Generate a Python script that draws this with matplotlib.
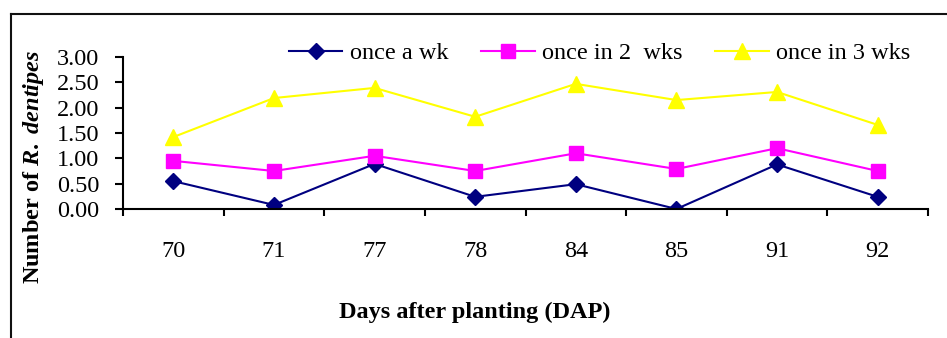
import numpy as np
import matplotlib.pyplot as plt
from matplotlib.lines import Line2D

plt.rcParams['font.family'] = ['Liberation Serif', 'DejaVu Serif']
plt.rcParams['mathtext.fontset'] = 'custom'
plt.rcParams['mathtext.rm'] = 'Liberation Serif:bold'
plt.rcParams['mathtext.it'] = 'Liberation Serif:italic:bold'
plt.rcParams['mathtext.bf'] = 'Liberation Serif:bold'

dap = ['70', '71', '77', '78', '84', '85', '91', '92']
once_wk = [0.55, 0.08, 0.89, 0.24, 0.49, 0.00, 0.88, 0.24]
once_2wks = [0.95, 0.75, 1.05, 0.75, 1.10, 0.79, 1.20, 0.75]
once_3wks = [1.42, 2.19, 2.39, 1.82, 2.47, 2.15, 2.31, 1.66]
yticks = [0.0, 0.5, 1.0, 1.5, 2.0, 2.5, 3.0]

W, H = 947, 338
fig = plt.figure(figsize=(W / 100, H / 100), dpi=100)
ax = fig.add_axes([123 / W, 1 - 209 / H, (928 - 123) / W, (209 - 57) / H])

x = np.arange(len(dap))
l1, = ax.plot(x, once_wk, color='#000080', marker='D', markersize=8, lw=1.5)
l2, = ax.plot(x, once_2wks, color='#FF00FF', marker='s', markersize=10, lw=1.5)
l3, = ax.plot(x, once_3wks, color='#FFFF00', marker='^', markersize=11, lw=1.5)

ax.set_xlim(-0.5, len(dap) - 0.5)
ax.set_ylim(0, 3)
ax.set_yticks(yticks)
ax.set_yticklabels(['%.2f' % v for v in yticks])
ax.set_xticks(np.arange(-0.5, len(dap), 1))
ax.set_xticklabels([])
ax.set_xticks(x, minor=True)
ax.set_xticklabels(dap, minor=True)
ax.tick_params(axis='x', which='major', direction='out', length=5, width=1.5)
ax.tick_params(axis='x', which='minor', length=0, pad=23, labelsize=17.5)
ax.tick_params(axis='y', direction='out', length=6, width=1.5, pad=11, labelsize=17.5)
for s in ['top', 'right']:
    ax.spines[s].set_visible(False)
for s in ['left', 'bottom']:
    ax.spines[s].set_linewidth(1.5)
ax.patch.set_alpha(0)

fig.legend([l1, l2, l3], ['once a wk', 'once in 2  wks', 'once in 3 wks'],
           loc='center left', bbox_to_anchor=(289 / W, 1 - 53 / H), ncol=3,
           frameon=False, fontsize=17.5, handlelength=2.2, handletextpad=0.3,
           columnspacing=1.35, borderpad=0, borderaxespad=0)

fig.text(33 / W, 1 - 167 / H, r'Number of $\it{R.\ dentipes}$', rotation=90,
         ha='center', va='center', fontsize=17.5, fontweight='bold')
fig.text(475 / W, 1 - 312 / H, 'Days after planting (DAP)', ha='center',
         va='center', fontsize=17.5, fontweight='bold')

# outer frame (only top and left edges are visible in the crop)
fig.add_artist(Line2D([11 / W, 11 / W], [0, 1 - 14 / H], color='#111111', lw=1.5))
fig.add_artist(Line2D([11 / W, 1], [1 - 14 / H, 1 - 14 / H], color='#111111', lw=1.5))

fig.savefig('out.png', dpi=100)
